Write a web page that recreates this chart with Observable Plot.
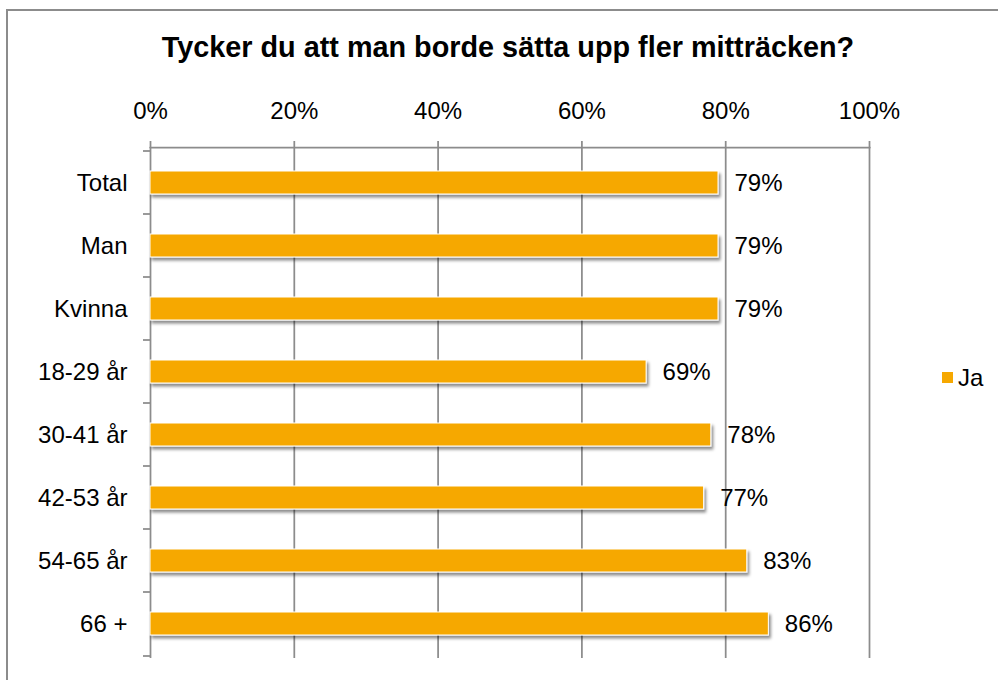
<!DOCTYPE html>
<html>
<head>
<meta charset="utf-8">
<script src="https://cdn.jsdelivr.net/npm/d3@7"></script>
<script src="https://cdn.jsdelivr.net/npm/@observablehq/plot@0.6"></script>
<style>
  html, body { margin: 0; padding: 0; background: #fff; overflow: hidden; }
  #wrap { position: relative; width: 998px; height: 680px; overflow: hidden; font-family: "Liberation Sans", Arial, sans-serif; }
  #border { position: absolute; left: 6px; top: 9px; width: 2000px; height: 2000px; border: 2px solid #8c8c8c; box-sizing: border-box; }
  #chart { position: absolute; left: 0; top: 0; }
</style>
</head>
<body>
<div id="wrap"><div id="border"></div><div id="chart"></div></div>
<script>
const title = "Tycker du att man borde sätta upp fler mitträcken?";
const seriesName = "Ja";
const categories = ["Total", "Man", "Kvinna", "18-29 år", "30-41 år", "42-53 år", "54-65 år", "66 +"];
const values = [0.79, 0.79, 0.79, 0.69, 0.78, 0.77, 0.83, 0.86];
const xTicks = [0, 0.2, 0.4, 0.6, 0.8, 1];

const data = categories.map((c, i) => ({category: c, value: values[i]}));
const fmt = d => Math.round(d * 100) + "%";
const orange = "#F6A800";
const gray = "#8c8c8c";
const font = "Liberation Sans, Arial, sans-serif";
const fs = 24;

const plot = Plot.plot({
  width: 998,
  height: 680,
  marginLeft: 150,
  marginRight: 129,
  marginTop: 147,
  marginBottom: 22,
  style: {fontFamily: font, fontSize: fs + "px", color: "#000", background: "transparent"},
  x: {domain: [0, 1], label: null},
  y: {domain: categories, padding: 0, label: null},
  marks: [
    Plot.gridX(xTicks.slice(1), {stroke: gray, strokeOpacity: 1, strokeWidth: 1.75}),
    Plot.frame({anchor: "top", stroke: gray, strokeWidth: 1.75}),
    Plot.ruleX([0], {stroke: gray, strokeWidth: 1.75}),
    Plot.barX(data, {x: "value", y: "category", fill: orange, stroke: "#fff", strokeWidth: 1, insetTop: 20, insetBottom: 20, className: "bars"}),
    Plot.text(data, {x: "value", y: "category", text: d => fmt(d.value), dx: 16, textAnchor: "start", fontSize: fs, fill: "#000"}),
    Plot.axisX(xTicks, {anchor: "top", label: null, tickFormat: fmt, tickSize: 7, tickPadding: 22, stroke: gray, strokeWidth: 1.75, fontSize: fs, fill: "#000"}),
    Plot.axisY({label: null, tickSize: 0, tickPadding: 23, fontSize: fs, fill: "#000"}),
    Plot.axisY(categories, {label: null, tickSize: 7, tickFormat: () => "", dy: -32, stroke: gray, strokeWidth: 1.75}),
    Plot.axisY(categories.slice(-1), {label: null, tickSize: 7, tickFormat: () => "", dy: 32, stroke: gray, strokeWidth: 1.75})
  ]
});

document.getElementById("chart").appendChild(plot);

// drop shadow for bars
const svg = d3.select(plot);
const defs = svg.insert("defs", ":first-child");
const f = defs.append("filter").attr("id", "barshadow").attr("x", "-5%").attr("y", "-50%").attr("width", "115%").attr("height", "220%");
f.append("feDropShadow").attr("dx", 2).attr("dy", 3).attr("stdDeviation", 1.8).attr("flood-color", "#000").attr("flood-opacity", 0.45);
svg.selectAll("g.bars").attr("filter", "url(#barshadow)");

// title
svg.append("text")
  .attr("x", 508).attr("y", 57)
  .attr("text-anchor", "middle")
  .attr("font-family", font)
  .attr("font-weight", "bold")
  .attr("font-size", 28.8)
  .attr("fill", "#000")
  .text(title);

// legend
const lg = svg.append("g");
lg.append("rect").attr("x", 942).attr("y", 372).attr("width", 11).attr("height", 11).attr("fill", orange);
lg.append("text").attr("x", 958).attr("y", 386)
  .attr("text-anchor", "start")
  .attr("font-family", font).attr("font-size", fs).attr("fill", "#000")
  .text(seriesName);
</script>
</body>
</html>
